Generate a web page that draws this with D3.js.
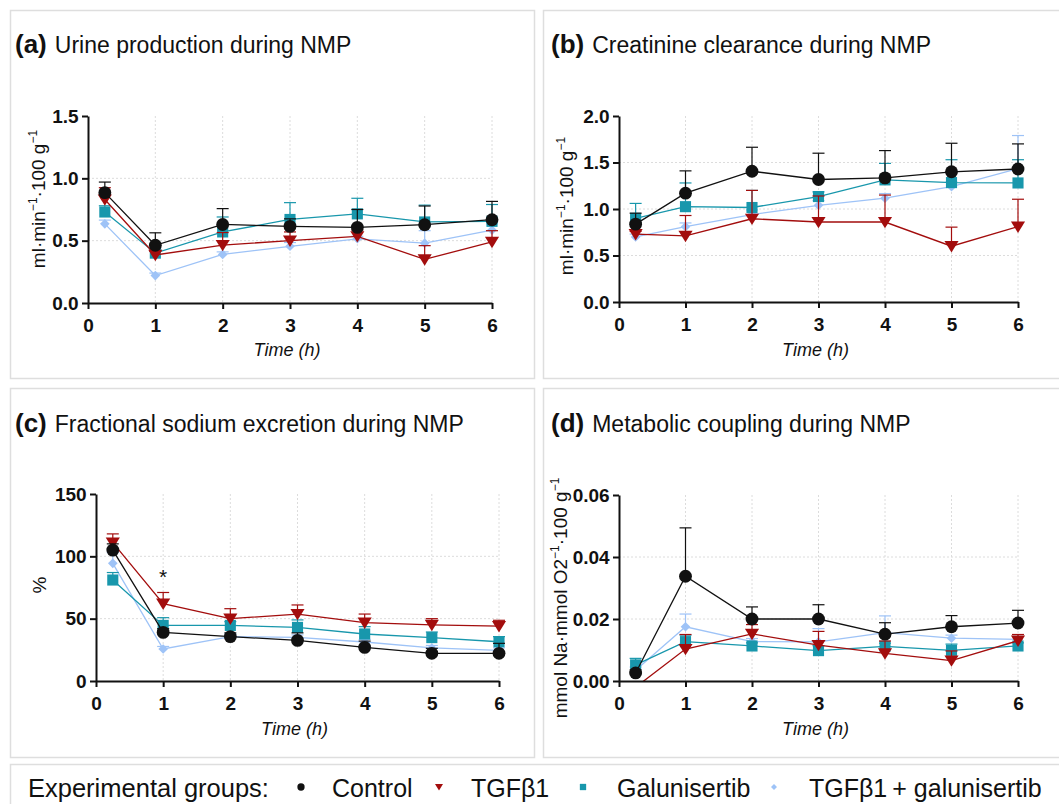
<!DOCTYPE html>
<html>
<head>
<meta charset="utf-8">
<script src="https://cdn.jsdelivr.net/npm/d3@7"></script>
<style>
  body { margin: 0; background: #fff; }
  svg { display: block; font-family: "Liberation Sans", Arial, sans-serif; }
  .axis path, .axis line { stroke: #111; stroke-width: 2; }
  .axis text { font-size: 19px; font-weight: bold; fill: #111; }
  .grid line { stroke: #dcdcdc; stroke-width: 1; stroke-dasharray: 2,2; }
</style>
</head>
<body>
<div id="chart"></div>
<script>
// time points (h)
var times = [0.25, 1, 2, 3, 4, 5, 6];
var groups = ["Control", "TGFβ1", "Galunisertib", "TGFβ1\u2009+ galunisertib"];
var groupColors = ["#111111", "#a30d0d", "#1897ac", "#9ec3f7"];

// (a) urine production, mean and SEM
var urineControl = [0.885, 0.463, 0.63, 0.615, 0.607, 0.628, 0.668];
var urineControlSem = [0.085, 0.10, 0.127, 0.06, 0.143, 0.15, 0.147];
var urineTgf = [0.83, 0.385, 0.465, 0.50, 0.535, 0.35, 0.49];
var urineTgfSem = [0.095, 0.03, 0.10, 0.07, 0.05, 0.11, 0.09];
var urineGal = [0.73, 0.40, 0.57, 0.67, 0.715, 0.65, 0.655];
var urineGalSem = [0.05, 0.03, 0.12, 0.135, 0.125, 0.135, 0.135];
var urineCombo = [0.635, 0.22, 0.39, 0.455, 0.515, 0.48, 0.585];
var urineComboSem = [0.03, 0.02, 0.02, 0.03, 0.02, 0.10, 0.05];

// (b) creatinine clearance
var ccControl = [0.837, 1.17, 1.406, 1.317, 1.335, 1.40, 1.43];
var ccControlSem = [0.118, 0.24, 0.258, 0.283, 0.293, 0.307, 0.27];
var ccTgf = [0.73, 0.71, 0.895, 0.86, 0.86, 0.60, 0.81];
var ccTgfSem = [0.03, 0.22, 0.305, 0.28, 0.29, 0.205, 0.295];
var ccGal = [0.90, 1.025, 1.016, 1.134, 1.313, 1.284, 1.28];
var ccGalSem = [0.16, 0.255, 0.184, 0.05, 0.177, 0.246, 0.25];
var ccCombo = [0.70, 0.81, 0.94, 1.04, 1.116, 1.24, 1.435];
var ccComboSem = [0.03, 0.04, 0.05, 0.05, 0.05, 0.05, 0.355];

// (c) fractional sodium excretion (%)
var feControl = [105, 39, 35.6, 32.6, 27, 22.2, 22.2];
var feControlSem = [5, 3, 3, 6, 5, 4, 8];
var feTgf = [111, 62, 50, 53.7, 46.8, 45, 44];
var feTgfSem = [7, 9, 8, 7.3, 6.9, 5, 4.7];
var feGal = [81, 44.6, 44.6, 43, 37.7, 34.8, 31.5];
var feGalSem = [6, 6.2, 3, 6, 5.9, 4.5, 4.1];
var feCombo = [94.4, 25.7, 35.6, 35, 31.3, 26.5, 24.6];
var feComboSem = [8.6, 2, 2, 2, 2, 2, 2];

// (d) metabolic coupling
var mcControl = [0.0026, 0.0338, 0.020, 0.020, 0.0151, 0.0175, 0.0187];
var mcControlSem = [0.001, 0.0156, 0.0039, 0.0046, 0.0037, 0.0036, 0.0041];
var mcTgf = [-0.002, 0.0103, 0.0152, 0.0116, 0.0089, 0.0066, 0.013];
var mcTgfSem = [0.001, 0.0047, 0.003, 0.0044, 0.004, 0.0031, 0.002];
var mcGal = [0.0052, 0.0127, 0.0113, 0.0098, 0.0112, 0.0099, 0.0113];
var mcGalSem = [0.0021, 0.0021, 0.001, 0.0016, 0.001, 0.002, 0.001];
var mcCombo = [0.0035, 0.0175, 0.0127, 0.0126, 0.0156, 0.0138, 0.0134];
var mcComboSem = [0.001, 0.0041, 0.001, 0.0043, 0.0054, 0.001, 0.001];

var xTicks = [0, 1, 2, 3, 4, 5, 6];

var width = 1059, height = 804;

var svg = d3.select("#chart").append("svg")
    .attr("width", width)
    .attr("height", height);

// panel frames
[[10, 10, 524, 368], [543, 10, 520, 368], [10, 388, 524, 369], [543, 388, 520, 369], [10, 764, 1053, 45]]
  .forEach(function(b) {
    svg.append("rect")
        .attr("x", b[0] + 0.5).attr("y", b[1] + 0.5)
        .attr("width", b[2]).attr("height", b[3])
        .attr("fill", "none").attr("stroke", "#dedede").attr("stroke-width", 1.5);
  });

function markerPath(i, s) {
  if (i === 0) return d3.symbol().type(d3.symbolCircle).size(s * 1.0)();
  if (i === 1) { var w = Math.sqrt(s) * 0.62, h = Math.sqrt(s) * 1.0;
    return "M" + (-w) + "," + (-h * 0.45) + "L" + w + "," + (-h * 0.45) + "L0," + (h * 0.55) + "Z"; }
  if (i === 2) return d3.symbol().type(d3.symbolSquare).size(s * 0.95)();
  var r = Math.sqrt(s) * 0.46;
  return "M0," + (-r) + "L" + r + ",0L0," + r + "L" + (-r) + ",0Z";
}

var panels = [
  { id: "a", title: "Urine production during NMP", tx: 15, ty: 53,
    x0: 88, x1: 492, yTop: 116, yBot: 303, yMax: 1.5, yTicks: [0, 0.5, 1.0, 1.5], fmt: d3.format(".1f"),
    series: [[urineControl, urineControlSem], [urineTgf, urineTgfSem], [urineGal, urineGalSem], [urineCombo, urineComboSem]],
    ylab: ["ml·min", "−1", "·100 g", "−1"], ylx: 45, yly: 199, xlabY: 356 },
  { id: "b", title: "Creatinine clearance during NMP", tx: 551, ty: 53,
    x0: 619, x1: 1018, yTop: 116, yBot: 302, yMax: 2.0, yTicks: [0, 0.5, 1.0, 1.5, 2.0], fmt: d3.format(".1f"),
    series: [[ccControl, ccControlSem], [ccTgf, ccTgfSem], [ccGal, ccGalSem], [ccCombo, ccComboSem]],
    ylab: ["ml·min", "−1", "·100 g", "−1"], ylx: 573, yly: 206, xlabY: 356 },
  { id: "c", title: "Fractional sodium excretion during NMP", tx: 15, ty: 432,
    x0: 96, x1: 499, yTop: 494, yBot: 681, yMax: 150, yTicks: [0, 50, 100, 150], fmt: d3.format("d"),
    series: [[feControl, feControlSem], [feTgf, feTgfSem], [feGal, feGalSem], [feCombo, feComboSem]],
    ylab: ["%"], ylx: 46, yly: 585, xlabY: 735 },
  { id: "d", title: "Metabolic coupling during NMP", tx: 551, ty: 432,
    x0: 619, x1: 1018, yTop: 495, yBot: 681, yMax: 0.06, yTicks: [0, 0.02, 0.04, 0.06], fmt: d3.format(".2f"),
    series: [[mcControl, mcControlSem], [mcTgf, mcTgfSem], [mcGal, mcGalSem], [mcCombo, mcComboSem]],
    ylab: ["mmol Na·mmol O2", "−1", "·100 g", "−1"], ylx: 567, yly: 598, xlabY: 735 }
];

panels.forEach(function(p) {
  var x = d3.scaleLinear().domain([0, 6]).range([p.x0, p.x1]);
  var y = d3.scaleLinear().domain([0, p.yMax]).range([p.yBot, p.yTop]);

  // title
  var t = svg.append("text").attr("x", p.tx).attr("y", p.ty).attr("fill", "#111");
  t.append("tspan").attr("font-size", 26).attr("font-weight", "bold").text("(" + p.id + ")");
  t.append("tspan").attr("font-size", 23).attr("dx", 8).text(p.title);

  // grid
  var grid = svg.append("g").attr("class", "grid");
  grid.selectAll(".gv").data(xTicks.slice(1)).enter().append("line")
      .attr("x1", function(d) { return x(d); }).attr("x2", function(d) { return x(d); })
      .attr("y1", p.yTop).attr("y2", p.yBot);
  grid.selectAll(".gh").data(p.yTicks.slice(1, -1)).enter().append("line")
      .attr("x1", x(0)).attr("x2", x(6))
      .attr("y1", function(d) { return y(d); }).attr("y2", function(d) { return y(d); });

  // clip to plot area
  var clipId = "clip-" + p.id;
  svg.append("clipPath").attr("id", clipId).append("rect")
      .attr("x", p.x0 - 20).attr("y", p.yTop - 30)
      .attr("width", p.x1 - p.x0 + 40).attr("height", p.yBot - p.yTop + 30);

  var plot = svg.append("g").attr("clip-path", "url(#" + clipId + ")");

  var line = d3.line().x(function(d) { return x(d.t); }).y(function(d) { return y(d.v); });

  // draw combo first, control last
  [3, 2, 1, 0].forEach(function(gi) {
    var vals = p.series[gi][0], sems = p.series[gi][1], col = groupColors[gi];
    var pts = times.map(function(tt, i) { return { t: tt, v: vals[i], e: sems[i] }; });
    var g = plot.append("g");
    g.append("path").datum(pts).attr("d", line)
        .attr("fill", "none").attr("stroke", col).attr("stroke-width", 1.3);
    var eb = g.selectAll(".eb").data(pts).enter().append("g");
    eb.append("line")
        .attr("x1", function(d) { return x(d.t); }).attr("x2", function(d) { return x(d.t); })
        .attr("y1", function(d) { return y(d.v); }).attr("y2", function(d) { return y(d.v + d.e); })
        .attr("stroke", col).attr("stroke-width", 1.2);
    eb.append("line")
        .attr("x1", function(d) { return x(d.t) - 6; }).attr("x2", function(d) { return x(d.t) + 6; })
        .attr("y1", function(d) { return y(d.v + d.e); }).attr("y2", function(d) { return y(d.v + d.e); })
        .attr("stroke", col).attr("stroke-width", 1.2);
    g.selectAll(".mk").data(pts).enter().append("path")
        .attr("d", markerPath(gi, gi === 3 ? 110 : 130))
        .attr("transform", function(d) { return "translate(" + x(d.t) + "," + y(d.v) + ")"; })
        .attr("fill", col);
  });

  // axes
  svg.append("g").attr("class", "axis")
      .attr("transform", "translate(0," + p.yBot + ")")
      .call(d3.axisBottom(x).tickValues(xTicks).tickFormat(d3.format("d")).tickSize(6).tickSizeOuter(0))
      .selectAll("text").attr("dy", "1.05em");
  svg.append("g").attr("class", "axis")
      .attr("transform", "translate(" + p.x0 + ",0)")
      .call(d3.axisLeft(y).tickValues(p.yTicks).tickFormat(p.fmt).tickSize(6).tickSizeOuter(0))
      .selectAll("text").attr("dx", "-0.02em");

  svg.append("text").attr("x", (p.x0 + p.x1) / 2 - 3).attr("y", p.xlabY)
      .attr("text-anchor", "middle").attr("font-size", 18).attr("font-style", "italic")
      .attr("fill", "#111").text("Time (h)");

  // y label
  var yl = svg.append("text").attr("transform", "translate(" + p.ylx + "," + p.yly + ") rotate(-90)")
      .attr("text-anchor", "middle").attr("font-size", 19).attr("fill", "#111");
  p.ylab.forEach(function(s, i) {
    var ts = yl.append("tspan").text(s);
    if (i % 2 === 1) ts.attr("font-size", 12).attr("dy", -8);
    else if (i > 0) ts.attr("dy", 8);
  });
});

// significance mark in (c)
(function() {
  var p = panels[2];
  var x = d3.scaleLinear().domain([0, 6]).range([p.x0, p.x1]);
  var y = d3.scaleLinear().domain([0, p.yMax]).range([p.yBot, p.yTop]);
  svg.append("text").attr("x", x(1)).attr("y", y(78))
      .attr("text-anchor", "middle").attr("font-size", 21).attr("fill", "#111").text("*");
})();

// legend
var leg = svg.append("g");
leg.append("text").attr("x", 28).attr("y", 797).attr("font-size", 25.5).attr("fill", "#111")
    .text("Experimental groups:");
var legX = [[301, 332], [439, 471], [583, 617], [774, 809]];
groups.forEach(function(name, i) {
  leg.append("path").attr("d", markerPath(i, 42))
      .attr("transform", "translate(" + legX[i][0] + ",787)").attr("fill", groupColors[i]);
  leg.append("text").attr("x", legX[i][1]).attr("y", 797).attr("font-size", 25).attr("fill", "#111")
      .text(name);
});
</script>
</body>
</html>
